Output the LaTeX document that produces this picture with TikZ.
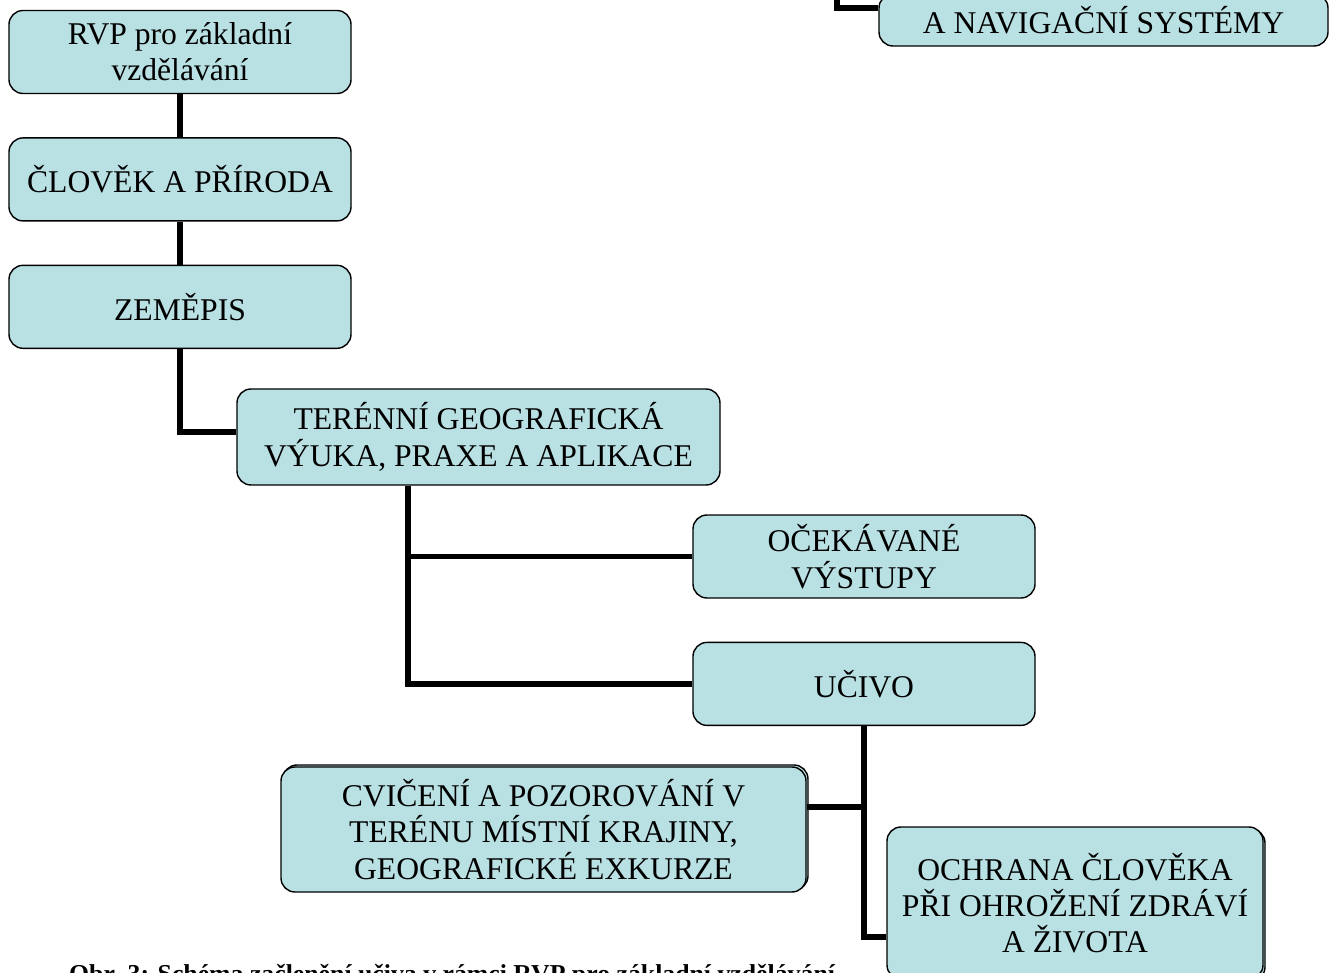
\documentclass[tikz,border=0pt]{standalone}
\usepackage{fontspec}
\setmainfont{Liberation Serif}
\usetikzlibrary{positioning,shadows}
\definecolor{boxfill}{RGB}{185,224,227}

\begin{document}
\begin{tikzpicture}[node distance=1.29cm,
                    box/.style={rectangle,draw,rounded corners=0.42cm,fill=boxfill,line width=1.2pt,
                      align=center,inner sep=2pt,minimum width=10.26cm,minimum height=2.49cm,
                      font=\fontsize{27}{31}\selectfont},
                    link/.style={line width=5pt}]

  \clip (0,0) rectangle (40.08,-29.19);

  \node[box] (rvp) at (5.4,-1.56) {RVP pro základní\\vzdělávání};
  \node[box] (clovek) [below=of rvp] {ČLOVĚK A PŘÍRODA};
  \node[box] (zemepis) [below=of clovek] {ZEMĚPIS};
  \node[box,minimum width=14.49cm,minimum height=2.88cm] (teren) at (14.355,-13.11)
    {TERÉNNÍ GEOGRAFICKÁ\\VÝUKA, PRAXE A APLIKACE};
  \node[box] (ocek) at (25.92,-16.695) {OČEKÁVANÉ\\VÝSTUPY};
  \node[box] (ucivo) [below=of ocek] {UČIVO};
  \node[box,minimum width=15.75cm,minimum height=3.75cm,
        copy shadow={shadow xshift=0.06cm,shadow yshift=0.06cm}] (cviceni) at (16.305,-24.885)
    {CVIČENÍ A POZOROVÁNÍ V\\TERÉNU MÍSTNÍ KRAJINY,\\GEOGRAFICKÉ EXKURZE};
  \node[box,minimum width=11.28cm,minimum height=4.56cm,
        copy shadow={shadow xshift=0.06cm,shadow yshift=-0.06cm}] (ochrana) at (32.25,-27.09)
    {OCHRANA ČLOVĚKA\\PŘI OHROŽENÍ ZDRÁVÍ\\A ŽIVOTA};
  \node[box,minimum width=13.47cm,minimum height=1.56cm] (navig) at (33.105,-0.6)
    {A NAVIGAČNÍ SYSTÉMY};

  \node[anchor=base west,font=\bfseries\fontsize{22}{24}\selectfont] (caption) at (1.95,-29.46)
    {Obr. 3: Schéma začlenění učiva v rámci RVP pro základní vzdělávání};

  \coordinate (tbranch) at ([xshift=-2.115cm]teren.south);
  \coordinate (navtop) at (25.11,0.5);

  \path[link]
    (rvp) edge (clovek)
    (clovek) edge (zemepis);
  \draw[link] (zemepis.south) |- ([yshift=0.15cm]teren.west);
  \draw[link] (tbranch) |- (ocek.west);
  \draw[link] (tbranch) |- (ucivo.west);
  \draw[link] (ucivo.south) |- ([yshift=0.675cm]cviceni.east);
  \draw[link] (ucivo.south) |- ([yshift=-1.02cm]ochrana.west);
  \draw[link] (navtop) |- ([yshift=0.36cm]navig.west);
\end{tikzpicture}
\end{document}
